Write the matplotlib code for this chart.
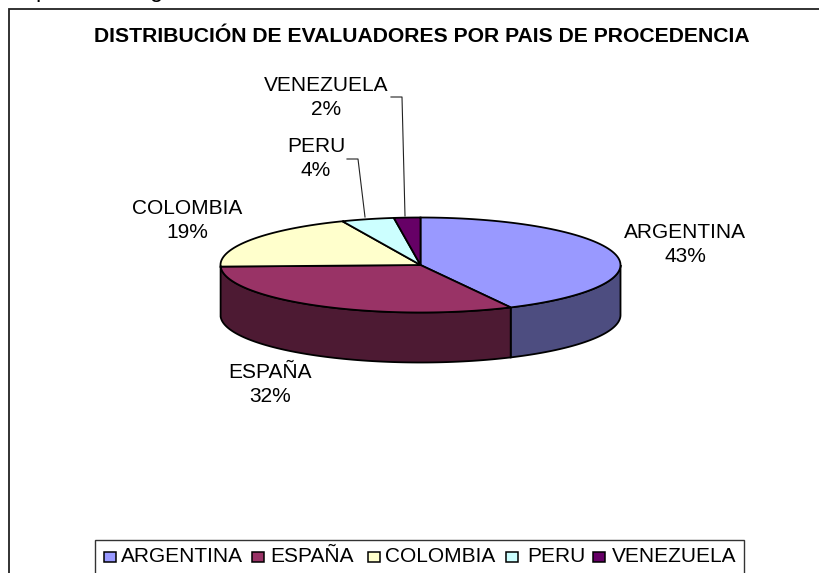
import numpy as np
import matplotlib
matplotlib.use('Agg')
import matplotlib.pyplot as plt
from matplotlib.patches import Polygon, Rectangle

plt.rcParams['font.family'] = ['Liberation Sans', 'DejaVu Sans']

# Data
paises = ['ARGENTINA', 'ESPAÑA', 'COLOMBIA', 'PERU', 'VENEZUELA']
evaluadores = [20, 15, 9, 2, 1]
colores = ['#9999FF', '#993366', '#FFFFCC', '#CCFFFF', '#660066']
colores_lado = ['#4D4D80', '#4D1A33']
titulo = 'DISTRIBUCIÓN DE EVALUADORES POR PAIS DE PROCEDENCIA'

# Pixel coordinates for the whole figure
fig = plt.figure(figsize=(8.2, 5.73), dpi=100)
ax = fig.add_axes([0, 0, 1, 1])
ax.set_xlim(0, 820)
ax.set_ylim(573, 0)
ax.axis('off')

cx, cy = 420.5, 265
rx, ry = 200, 47.5
depth = 50


def punto(ang):
    # angle measured clockwise from the top of the ellipse
    return cx + rx * np.sin(ang), cy - ry * np.cos(ang)


# Frame, it runs off the right and bottom of the picture
ax.add_patch(Rectangle((9, 9), 830, 600, fc='white', ec='#222222', lw=1.3, zorder=1))

# Bits of the cropped line of text above the chart
ax.text(42, -3, 'p', ha='center', va='baseline', fontsize=17, clip_on=False)
ax.text(157, -3, 'g', ha='center', va='baseline', fontsize=17, clip_on=False)

# Slice angles
fracs = np.array(evaluadores) / sum(evaluadores)
bordes = np.concatenate([[0], np.cumsum(fracs)]) * 2 * np.pi

# Side walls (only the front half is visible)
for i in range(2):
    a0 = max(bordes[i], np.pi / 2)
    a1 = min(bordes[i + 1], 3 * np.pi / 2)
    t = np.linspace(a0, a1, 80)
    x, y = punto(t)
    xs = np.concatenate([x, x[::-1]])
    ys = np.concatenate([y, y[::-1] + depth])
    ax.add_patch(Polygon(np.column_stack([xs, ys]), closed=True, fc=colores_lado[i],
                         ec='black', lw=1.3, zorder=2))

# Top slices
for i in range(len(paises)):
    t = np.linspace(bordes[i], bordes[i + 1], 80)
    x, y = punto(t)
    xs = np.concatenate([[cx], x])
    ys = np.concatenate([[cy], y])
    ax.add_patch(Polygon(np.column_stack([xs, ys]), closed=True, fc=colores[i],
                         ec='black', lw=1.3, zorder=3))

# Labels
etiquetas_x = [685, 270, 187, 316, 326]
etiquetas_y = [244.5, 384.5, 220.5, 158.5, 97.5]
for i in range(len(paises)):
    pct = round(100 * fracs[i])
    ax.text(etiquetas_x[i], etiquetas_y[i], f'{paises[i]}\n{pct}%', ha='center',
            va='center', fontsize=15, linespacing=1.38, zorder=5)

# Leader lines
ax.plot([347, 358, 365], [159, 159, 217], color='#222222', lw=0.8, zorder=4)
ax.plot([391, 402, 405], [97, 97, 216], color='#222222', lw=0.8, zorder=4)

ax.text(422, 36, titulo, ha='center', va='center', fontsize=15.2, fontweight='bold', zorder=5)

# Legend
ax.add_patch(Rectangle((95, 540), 649, 45, fc='white', ec='#333333', lw=1, zorder=5))
leyenda_x = [104, 252, 368, 506, 593]
texto_x = [121, 270, 385, 527, 612]
for i in range(len(paises)):
    ax.add_patch(Rectangle((leyenda_x[i], 552), 12, 10, fc=colores[i], ec='black', lw=1.1, zorder=6))
    ax.text(texto_x[i], 557, paises[i], ha='left', va='center', fontsize=15, zorder=6)

fig.savefig('out.png', dpi=100)
